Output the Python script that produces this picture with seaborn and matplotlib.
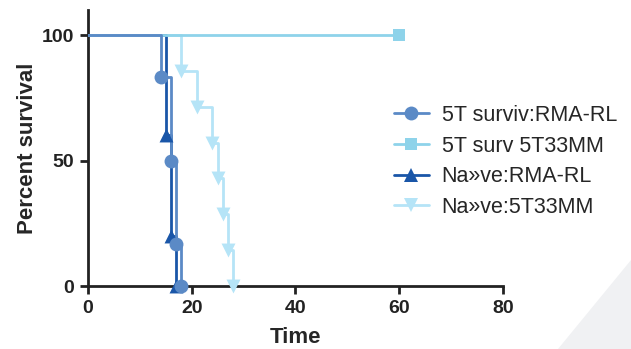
import numpy as np
import pandas as pd
import matplotlib
matplotlib.use("Agg")
import matplotlib.pyplot as plt
import seaborn as sns
from matplotlib.patches import Polygon
from matplotlib.lines import Line2D

sns.set_theme(style="ticks")
plt.rcParams["font.family"] = ["Liberation Sans", "DejaVu Sans"]

# curvas de sobrevida (tempo, percentual)
surv_rma_t = [0, 14, 16, 17, 18]
surv_rma_s = [100, 83.3, 50, 16.7, 0]
surv_mm_t = [0, 60]
surv_mm_s = [100, 100]
naive_rma_t = [0, 15, 16, 17]
naive_rma_s = [100, 60, 20, 0]
naive_mm_t = [0, 18, 21, 24, 25, 26, 27, 28]
naive_mm_s = [100, 85.7, 71.4, 57.1, 42.9, 28.6, 14.3, 0]

grupos = [
    ("5T surviv:RMA-RL", surv_rma_t, surv_rma_s, "#5b8ac6", "o", 10),
    ("5T surv 5T33MM", surv_mm_t, surv_mm_s, "#8ed3ea", "s", 9),
    ("Na»ve:RMA-RL", naive_rma_t, naive_rma_s, "#1a56a8", "^", 10),
    ("Na»ve:5T33MM", naive_mm_t, naive_mm_s, "#b5e4f7", "v", 10),
]

fig = plt.figure(figsize=(6.31, 3.49), dpi=100)
fig.patches.append(Polygon([[558 / 631, 0], [1, 0], [1, 89 / 349]], closed=True,
                           transform=fig.transFigure, facecolor="#f0f1f3",
                           edgecolor="none", zorder=0))
ax = fig.add_axes([0.1395, 0.1805, 0.6575, 0.791])
ax.patch.set_alpha(0)

handles = []
for i, (nome, t, s, cor, mk, ms) in enumerate(grupos):
    df = pd.DataFrame({"t": t, "s": s})
    z = 10 - i
    sns.lineplot(data=df, x="t", y="s", ax=ax, color=cor, lw=2,
                 drawstyle="steps-post", estimator=None, sort=False,
                 legend=False, zorder=z)
    sns.scatterplot(data=df.iloc[1:], x="t", y="s", ax=ax, color=cor,
                    marker=mk, s=ms ** 2, linewidth=0, clip_on=False,
                    legend=False, zorder=z + 10)
    handles.append(Line2D([], [], color=cor, lw=2, marker=mk, markersize=ms,
                          markeredgewidth=0, label=nome))

ax.set_xlim(0, 80)
ax.set_ylim(0, 110)
ax.set_xticks([0, 20, 40, 60, 80])
ax.set_yticks([0, 50, 100])
ax.set_xlabel("Time", fontsize=16, fontweight="bold", labelpad=7)
ax.set_ylabel("Percent survival", fontsize=16, fontweight="bold", labelpad=3)
ax.tick_params(labelsize=14, width=2, length=6, color="#222222",
               labelcolor="#222222", pad=4)
for lab in ax.get_xticklabels() + ax.get_yticklabels():
    lab.set_fontweight("bold")
sns.despine(ax=ax)
for sp in ["left", "bottom"]:
    ax.spines[sp].set_linewidth(2)
    ax.spines[sp].set_color("#222222")

fig.legend(handles=handles, loc="upper left", bbox_to_anchor=(0.594, 0.755),
           frameon=False, fontsize=15.5, labelspacing=0.45, handlelength=1.6,
           handletextpad=0.6, borderpad=0.4)

fig.savefig("out.png", dpi=100)
